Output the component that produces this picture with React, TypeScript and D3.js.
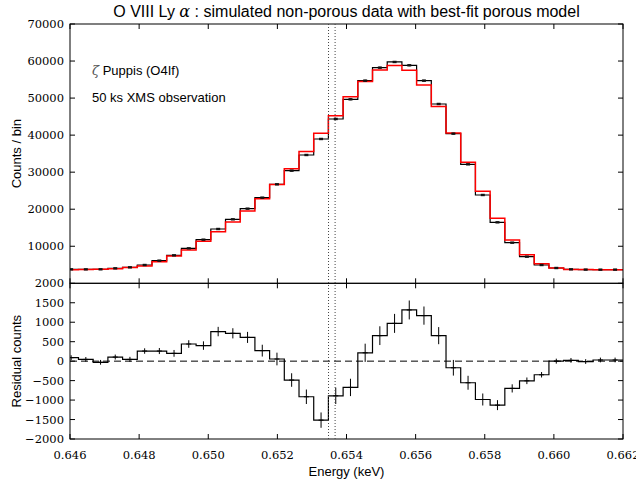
import React from "react";
import * as d3 from "d3";

// bin centres (keV)
const ENERGY = [
  0.646033, 0.646458, 0.646884, 0.647309, 0.647734, 0.64816, 0.648585, 0.64901,
  0.649436, 0.649861, 0.650287, 0.650712, 0.651137, 0.651563, 0.651988, 0.652413,
  0.652839, 0.653264, 0.653689, 0.654115, 0.65454, 0.654965, 0.655391, 0.655816,
  0.656241, 0.656667, 0.657092, 0.657517, 0.657943, 0.658368, 0.658794, 0.659219,
  0.659644, 0.66007, 0.660495, 0.66092, 0.661346, 0.661771, 0.662196,
];
// simulated non-porous data
const COUNTS = [
  3770, 3760, 3780, 4040, 4310, 4940, 6110, 7550, 9440, 11780, 14660, 17270,
  20150, 23120, 26720, 30410, 34640, 38960, 44360, 49670, 54710, 58220, 59750,
  58850, 54710, 48410, 40400, 32120, 23840, 16460, 10970, 7190, 4940, 4130, 3770,
  3700, 3680, 3690, 3680,
];
// best-fit porous model
const MODEL = [
  3680, 3715, 3810, 3935, 4265, 4680, 5850, 7350, 9000, 11380, 13900, 16555,
  19540, 22850, 26665, 30895, 35555, 40475, 45250, 50345, 54495, 57565, 58780,
  57535, 53540, 47755, 40570, 32675, 24825, 17590, 11670, 7695, 5290, 4130, 3750,
  3710, 3650, 3660, 3650,
];
const RESIDUAL = [
  90, 45, -30, 105, 45, 260, 260, 200, 440, 400, 760, 715, 610, 270, 55, -485,
  -915, -1515, -890, -675, 215, 655, 970, 1315, 1170, 655, -170, -555, -985,
  -1130, -700, -505, -350, 0, 20, -10, 30, 30, 30,
];
const ERROR = [
  61, 61, 61, 64, 66, 70, 78, 87, 97, 109, 121, 131, 142, 152, 163, 174, 186,
  197, 211, 223, 234, 241, 244, 243, 234, 220, 201, 179, 154, 128, 105, 85, 70,
  64, 61, 61, 61, 61, 61,
];
const LINE_ENERGY = [0.65348, 0.65367]; // O VIII Ly a1, a2
const X_TICKS = [0.646, 0.648, 0.65, 0.652, 0.654, 0.656, 0.658, 0.66, 0.662];
const TOP_TICKS = [10000, 20000, 30000, 40000, 50000, 60000, 70000];
const RES_TICKS = [-2000, -1500, -1000, -500, 0, 500, 1000, 1500, 2000];

const W = 636;
const H = 481;
const LEFT = 70;
const RIGHT = 623;
const TOP0 = 24;
const TOP1 = 283.3;
const BOT1 = 439;
const TICK = 5;

const x = d3.scaleLinear().domain([0.646, 0.662]).range([LEFT, RIGHT]);
const yTop = d3.scaleLinear().domain([0, 70000]).range([TOP1, TOP0]);
const yRes = d3.scaleLinear().domain([-2000, 2000]).range([BOT1, TOP1]);

const SERIF = "'DejaVu Serif', 'Liberation Serif', serif";
const SANS = "'Liberation Sans', Arial, sans-serif";

const stepLine = (vals: number[], y: d3.ScaleLinear<number, number>) =>
  d3
    .line<number>()
    .x((_, i) => x(ENERGY[i]))
    .y((d) => y(d))
    .curve(d3.curveStep)(vals) || "";

function Frame({ y0, y1, yScale, ticks, labels }: any) {
  return (
    <g>
      <rect x={LEFT} y={y0} width={RIGHT - LEFT} height={y1 - y0} fill="none" stroke="#000" strokeWidth={1} />
      {X_TICKS.map((t) => (
        <g key={"x" + t}>
          <line x1={x(t)} x2={x(t)} y1={y0} y2={y0 + TICK} stroke="#000" />
          <line x1={x(t)} x2={x(t)} y1={y1} y2={y1 - TICK} stroke="#000" />
        </g>
      ))}
      {ticks.map((t: number) => (
        <g key={"y" + t}>
          <line x1={LEFT} x2={LEFT + TICK} y1={yScale(t)} y2={yScale(t)} stroke="#000" />
          <line x1={RIGHT} x2={RIGHT - TICK} y1={yScale(t)} y2={yScale(t)} stroke="#000" />
          {labels && (
            <text x={LEFT - 6} y={yScale(t)} dy="0.35em" textAnchor="end" fontFamily={SERIF} fontSize={11.5}>
              {t < 0 ? "\u2212" + Math.abs(t) : t}
            </text>
          )}
        </g>
      ))}
    </g>
  );
}

export default function App() {
  return (
    <svg width={W} height={H} style={{ position: "absolute", left: 0, top: 0, background: "#fff" }}>
      <defs>
        <clipPath id="clipTop">
          <rect x={LEFT} y={TOP0} width={RIGHT - LEFT} height={TOP1 - TOP0} />
        </clipPath>
        <clipPath id="clipRes">
          <rect x={LEFT} y={TOP1} width={RIGHT - LEFT} height={BOT1 - TOP1} />
        </clipPath>
      </defs>

      <text x={(LEFT + RIGHT) / 2} y={17} textAnchor="middle" fontFamily={SANS} fontSize={16}>
        O VIII Ly <tspan fontFamily={SERIF} fontStyle="italic">α</tspan> : simulated non-porous data with best-fit porous model
      </text>

      {/* top panel */}
      <g clipPath="url(#clipTop)">
        <path d={stepLine(COUNTS, yTop)} fill="none" stroke="#000" strokeWidth={1.2} />
        <path d={stepLine(MODEL, yTop)} fill="none" stroke="#f00" strokeWidth={1.5} />
        {COUNTS.map((c, i) => (
          <g key={i}>
            <line x1={x(ENERGY[i])} x2={x(ENERGY[i])} y1={yTop(c - ERROR[i])} y2={yTop(c + ERROR[i])} stroke="#000" />
            <rect x={x(ENERGY[i]) - 2} y={yTop(c) - 1.2} width={4} height={2.4} fill="#111" />
          </g>
        ))}
      </g>
      <Frame y0={TOP0} y1={TOP1} yScale={yTop} ticks={TOP_TICKS} labels />

      {/* residual panel */}
      <g clipPath="url(#clipRes)">
        <line x1={LEFT} x2={RIGHT} y1={yRes(0)} y2={yRes(0)} stroke="#000" strokeDasharray="7,4" />
        <path d={stepLine(RESIDUAL, yRes)} fill="none" stroke="#000" strokeWidth={1.2} />
        {RESIDUAL.map((r, i) => (
          <g key={i} stroke="#000">
            <line x1={x(ENERGY[i])} x2={x(ENERGY[i])} y1={yRes(r - ERROR[i])} y2={yRes(r + ERROR[i])} />
            <line x1={x(ENERGY[i]) - 2.5} x2={x(ENERGY[i]) + 2.5} y1={yRes(r)} y2={yRes(r)} />
          </g>
        ))}
      </g>
      <Frame y0={TOP1} y1={BOT1} yScale={yRes} ticks={RES_TICKS} labels />

      {LINE_ENERGY.map((e) => (
        <line key={e} x1={x(e)} x2={x(e)} y1={TOP0} y2={BOT1} stroke="#444" strokeWidth={1} strokeDasharray="1,2" />
      ))}

      {X_TICKS.map((t) => (
        <text key={t} x={x(t)} y={459} textAnchor="middle" fontFamily={SERIF} fontSize={11.5}>
          {t.toFixed(3)}
        </text>
      ))}

      <text x={92} y={75} fontFamily={SANS} fontSize={13}>
        <tspan fontFamily={SERIF} fontStyle="italic" fill="#555">ζ</tspan> Puppis (O4If)
      </text>
      <text x={92} y={102} fontFamily={SANS} fontSize={13}>
        50 ks XMS observation
      </text>

      <text transform={`translate(21,${(TOP0 + TOP1) / 2}) rotate(-90)`} textAnchor="middle" fontFamily={SANS} fontSize={13}>
        Counts / bin
      </text>
      <text transform={`translate(21,${(TOP1 + BOT1) / 2}) rotate(-90)`} textAnchor="middle" fontFamily={SANS} fontSize={13}>
        Residual counts
      </text>
      <text x={(LEFT + RIGHT) / 2} y={476} textAnchor="middle" fontFamily={SANS} fontSize={13}>
        Energy (keV)
      </text>
    </svg>
  );
}
